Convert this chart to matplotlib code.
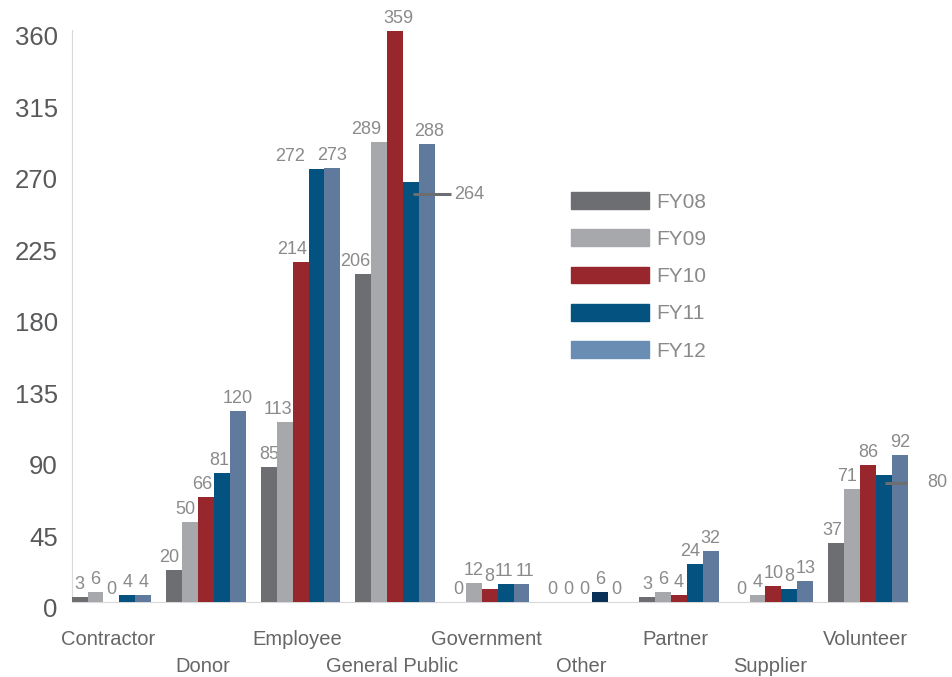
import numpy as np
from matplotlib import pyplot as plt
from matplotlib import transforms
from matplotlib.patches import Patch

# categories and series
categories = ['Contractor', 'Donor', 'Employee', 'General Public', 'Government',
              'Other', 'Partner', 'Supplier', 'Volunteer']
years = ['FY08', 'FY09', 'FY10', 'FY11', 'FY12']
fy08 = [3, 20, 85, 206, 0, 0, 3, 0, 37]
fy09 = [6, 50, 113, 289, 12, 0, 6, 4, 71]
fy10 = [0, 66, 214, 359, 8, 0, 4, 10, 86]
fy11 = [4, 81, 272, 264, 11, 6, 24, 8, 80]
fy12 = [4, 120, 273, 288, 11, 0, 32, 13, 92]
y_ticks = [0, 45, 90, 135, 180, 225, 270, 315, 360]

colors = ['#6d6e72', '#a7a8ab', '#98262d', '#03527f', '#5f7a9c']
legend_colors = ['#6d6e72', '#a7a8ab', '#98262d', '#03527f', '#6a8db3']

plt.rcParams['font.family'] = ['Liberation Sans', 'DejaVu Sans']

fig = plt.figure(figsize=(9.52, 6.77), dpi=100)
ax = fig.add_axes([0.0753, 0.1112, 0.8782, 0.8452])

series = [fy08, fy09, fy10, fy11, fy12]
w = 0.168
x = np.arange(len(categories))

# label nudges in pixels (series index, category index) -> dx
nudges = {(2, 2): -8, (3, 2): -26, (1, 2): -7, (0, 3): -8, (1, 3): -13,
          (2, 3): 3, (4, 3): 2, (0, 1): -5, (1, 1): -5, (2, 1): -4,
          (3, 1): -3, (3, 6): -5, (0, 8): -4, (1, 8): -5, (3, 4): -2,
          (4, 4): 3}
# values shown with a leader line to the right: (series, category) -> dy px
leaders = {(3, 3): -12, (3, 8): -8}

for j, vals in enumerate(series):
    xs = x + (j - 2) * w
    bar_colors = [colors[j]] * len(vals)
    if j == 3:
        bar_colors[5] = '#0a3157'
    ax.bar(xs, vals, width=w, color=bar_colors, zorder=3)
    for i, v in enumerate(vals):
        if (j, i) in leaders:
            off = transforms.offset_copy(ax.transData, fig=fig,
                                         y=leaders[(j, i)], units='dots')
            ax.plot([xs[i] + 0.1 * w, xs[i] + 2.5 * w], [v, v], transform=off,
                    color='#6d6e72', lw=2.2, zorder=4, solid_capstyle='butt')
            ax.text(xs[i] + 2.72 * w, v, str(v), transform=off, ha='left',
                    va='center', fontsize=13, color='#8a8a8a')
            continue
        ax.annotate(str(v), (xs[i], v), xytext=(nudges.get((j, i), 0), 4),
                    textcoords='offset pixels', ha='center', va='bottom',
                    fontsize=13, color='#8a8a8a', annotation_clip=False)

ax.set_xlim(-2.5 * w, len(categories) - 1 + 2.5 * w)
ax.set_ylim(0, 360)
ax.set_yticks(y_ticks)
ax.tick_params(axis='y', length=0, pad=10, labelsize=18.5, labelcolor='#58595b')
shift = transforms.ScaledTranslation(0, -6 / 100, fig.dpi_scale_trans)
for lab in ax.get_yticklabels():
    lab.set_transform(lab.get_transform() + shift)
ax.set_xticks([])

for s in ['top', 'right']:
    ax.spines[s].set_visible(False)
ax.spines['left'].set_color('#d9d9d9')
ax.spines['bottom'].set_color('#d9d9d9')
ax.spines['left'].set_zorder(1)

# staggered category labels
for i, cat in enumerate(categories):
    dy = -28 if i % 2 == 0 else -55
    ax.annotate(cat, (x[i], 0), xytext=(-3, dy), textcoords='offset pixels',
                xycoords=('data', 'axes fraction'), ha='center', va='top',
                fontsize=14.5, color='#666666', annotation_clip=False)

handles = [Patch(color=c) for c in legend_colors]
ax.legend(handles, years, loc='upper left', bbox_to_anchor=(0.597, 0.716),
          frameon=False, fontsize=15, handlelength=3.75, handleheight=0.86,
          labelspacing=0.85, handletextpad=0.33, borderpad=0, borderaxespad=0,
          labelcolor='#8a8a8a')

plt.savefig('out.png', dpi=100)
plt.close()
